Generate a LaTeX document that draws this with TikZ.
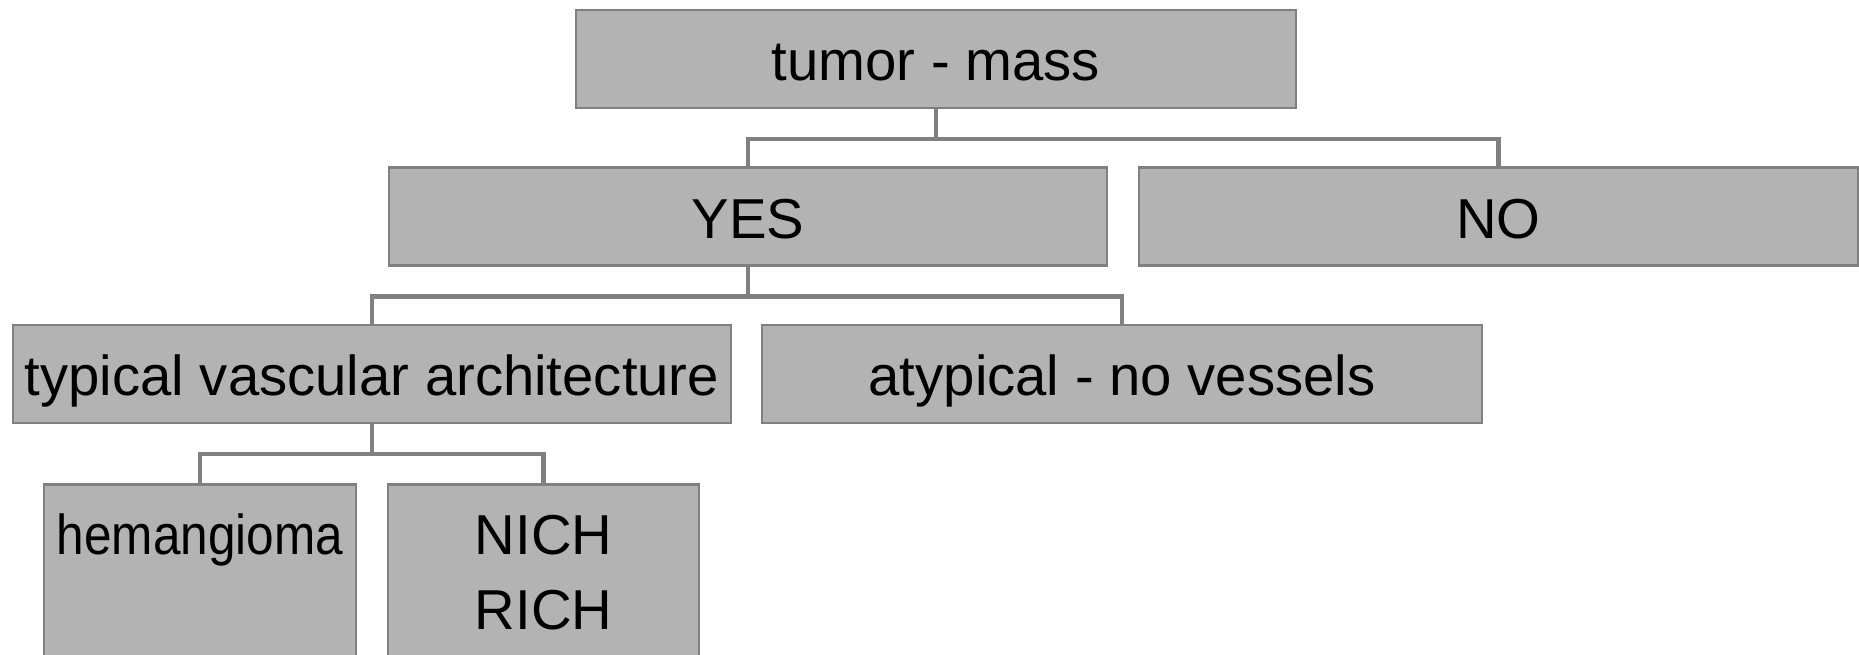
\documentclass[tikz,border=0pt]{standalone}
\usepackage{fontspec}
\setmainfont{Liberation Sans}
\definecolor{boxfill}{RGB}{179,179,179}
\definecolor{lineg}{RGB}{128,128,128}
\begin{document}
\begin{tikzpicture}[x=0.01cm,y=-0.01cm,
  box/.style={draw=lineg, fill=boxfill, line width=0.8pt, rectangle, inner sep=0pt,
    minimum height=98*0.01cm, text height=12.5pt, text depth=0pt,
    font=\fontsize{16}{20}\selectfont},
  conn/.style={draw=lineg, line width=1.2pt},
  lbl/.style={anchor=base, inner sep=0pt, font=\fontsize{16}{20}\selectfont}]
\clip (0,0) rectangle (1859,655);
\useasboundingbox (0,0) rectangle (1859,655);
\node[box, minimum width=720*0.01cm] (top) at (936,59) {tumor - mass};
\node[box, minimum width=718*0.01cm] (yes) at (748,216.5) {YES};
\node[box, minimum width=719*0.01cm] (no) at (1498.5,216.5) {NO};
\node[box, minimum width=718*0.01cm] (typ) at (372,374) {typical vascular architecture};
\node[box, minimum width=720*0.01cm] (atyp) at (1122,374) {atypical - no vessels};
\node[box, minimum width=312*0.01cm, minimum height=250*0.01cm, anchor=north] (hem) at (200,483) {};
\node[box, minimum width=311*0.01cm, minimum height=250*0.01cm, anchor=north] (nich) at (543.5,483) {};
\node[lbl] (hemt) at (200,555) {\scalebox{0.88}[1]{hemangioma}};
\node[lbl] (nicht) at (543.5,555) {NICH};
\node[lbl] (richt) at (543.5,630) {RICH};
\draw[conn] (top.south) -- ++(0,29.5) -| (yes.north);
\draw[conn] (top.south) ++(0,29.5) -| (no.north);
\draw[conn] (yes.south) -- ++(0,29.5) -| (typ.north);
\draw[conn] (yes.south) ++(0,29.5) -| (atyp.north);
\draw[conn] (typ.south) -- ++(0,29.5) -| (hem.north);
\draw[conn] (typ.south) ++(0,29.5) -| (nich.north);
\end{tikzpicture}
\end{document}
